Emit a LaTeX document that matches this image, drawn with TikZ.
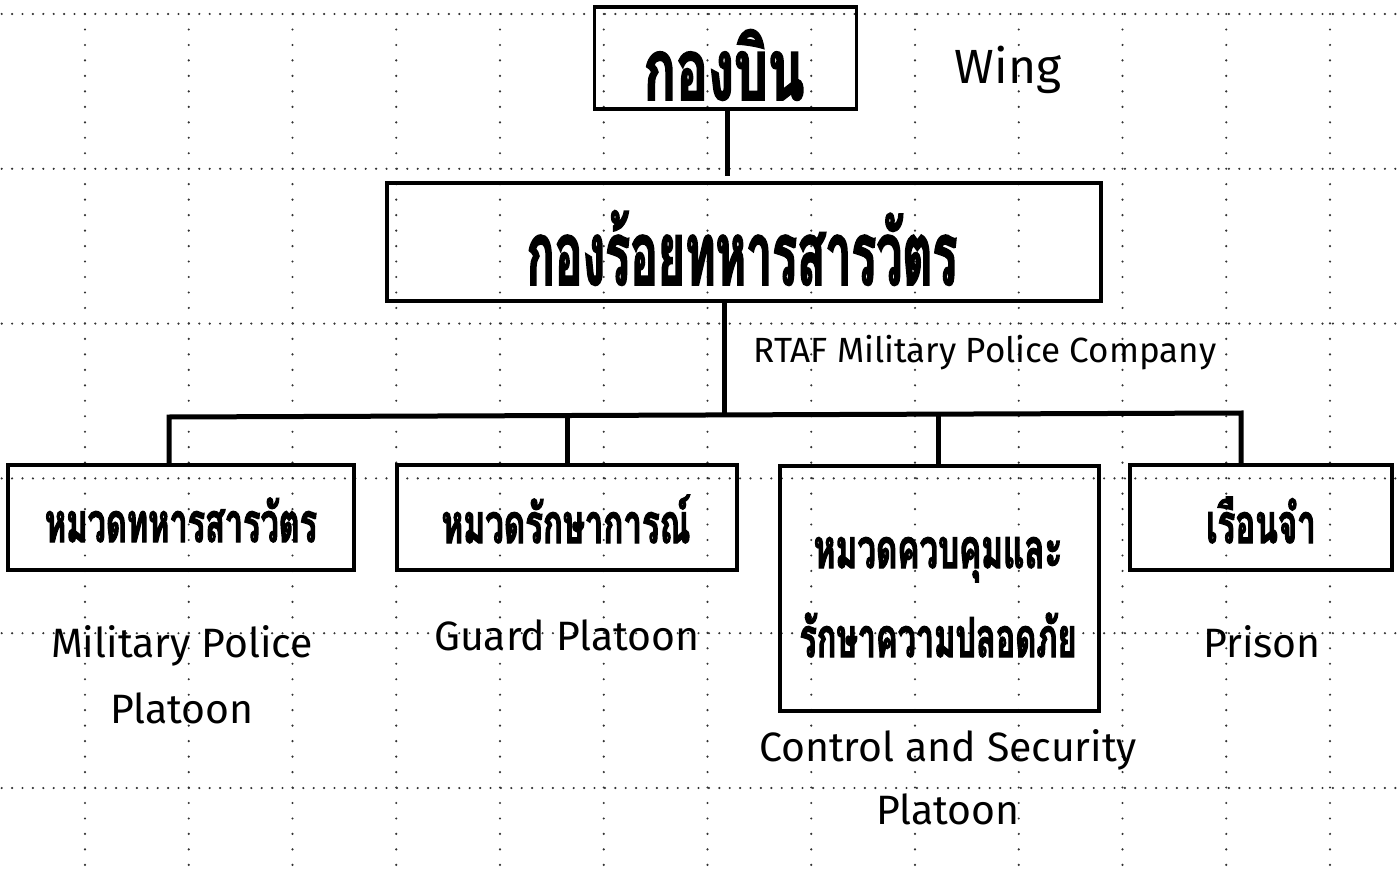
\documentclass[tikz,border=0pt]{standalone}
\usepackage{fontspec}
\setmainfont{Fira Sans}
\newfontfamily\thaifont[Script=Thai,FakeStretch=0.62,BoldFeatures={FakeBold=2}]{Loma}
\begin{document}
\begin{tikzpicture}[x=1pt,y=-1pt,
  griddot/.style={line width=2.4pt,line cap=round,black!80},
  box/.style={draw,line width=3.5pt,inner sep=0pt},
  conn/.style={line width=5pt,line join=miter},
  thai/.style={anchor=base,inner sep=0pt},
  eng/.style={anchor=base,inner sep=0pt,font=\fontsize{41}{41}\selectfont}]
\useasboundingbox (0,0) rectangle (1400,869);
\fill[white] (0,0) rectangle (1400,869);
% dotted grid
\foreach \i in {0,...,12}
  \draw[griddot,dash pattern=on 0pt off 15.47pt] (85+103.75*\i,-1.45) -- (85+103.75*\i,875);
\foreach \j in {0,...,5}
  \draw[griddot,dash pattern=on 0pt off 10.4pt] (1.7,14+154.8*\j) -- (1402,14+154.8*\j);
% boxes
\node[box,minimum width=262pt,minimum height=102pt] (wing) at (725.5,58) {};
\node[box,minimum width=714pt,minimum height=118pt] (company) at (744,242) {};
\node[box,minimum width=346pt,minimum height=105pt] (mp) at (181,517.5) {};
\node[box,minimum width=340pt,minimum height=105pt] (guard) at (567,517.5) {};
\node[box,minimum width=319pt,minimum height=245pt] (ctrl) at (939.5,588.5) {};
\node[box,minimum width=262pt,minimum height=105pt] (prison) at (1261,517.5) {};
% thai labels
\node[thai,font=\thaifont\bfseries\fontsize{86}{86}\selectfont] (wingT) at (724,100) {กองบิน};
\node[thai,font=\thaifont\bfseries\fontsize{89}{89}\selectfont] (companyT) at (742,285) {\scalebox{0.84}[1]{กองร้อยทหารสารวัตร}};
\node[thai,font=\thaifont\bfseries\fontsize{55}{55}\selectfont] (mpT) at (181,542) {\scalebox{0.95}[1]{หมวดทหารสารวัตร}};
\node[thai,font=\thaifont\bfseries\fontsize{55}{55}\selectfont] (guardT) at (566,543) {\scalebox{0.97}[1]{หมวดรักษาการณ์}};
\node[thai,font=\thaifont\bfseries\fontsize{55}{55}\selectfont] (ctrlT1) at (938,568) {\scalebox{0.97}[1]{หมวดควบคุมและ}};
\node[thai,font=\thaifont\bfseries\fontsize{55}{55}\selectfont] (ctrlT2) at (938,657) {\scalebox{0.95}[1]{รักษาความปลอดภัย}};
\node[thai,font=\thaifont\bfseries\fontsize{55}{55}\selectfont] (prisonT) at (1261,543) {\scalebox{0.97}[1]{เรือนจำ}};
% english labels
\node[eng,font=\fontsize{48}{48}\selectfont] (wingE) at (1008,84) {Wing};
\node[eng,font=\fontsize{35}{35}\selectfont] (companyE) at (985,362) {RTAF Military Police Company};
\node[eng] (mpE1) at (182,657) {Military Police};
\node[eng] (mpE2) at (182,723) {Platoon};
\node[eng] (guardE) at (567,650) {Guard Platoon};
\node[eng] (ctrlE1) at (948,761) {Control and Security};
\node[eng] (ctrlE2) at (948,824) {Platoon};
\node[eng] (prisonE) at (1262,657) {Prison};
% connectors
\coordinate (stub) at (727,176);
\coordinate (j1) at (169,417);
\coordinate (j2) at (567,416);
\coordinate (j3) at (938,414.5);
\coordinate (j4) at (1241,413);
\coordinate (jc) at (724,415);
\draw[conn] (wing.south -| stub) -- (stub);
\draw[conn] (company.south -| jc) -- (jc);
\draw[conn] (mp.north -| j1) -- (j1) -- (j4) -- (prison.north -| j4);
\draw[conn] (j2) -- (guard.north -| j2);
\draw[conn] (j3) -- (ctrl.north -| j3);
\end{tikzpicture}
\end{document}
